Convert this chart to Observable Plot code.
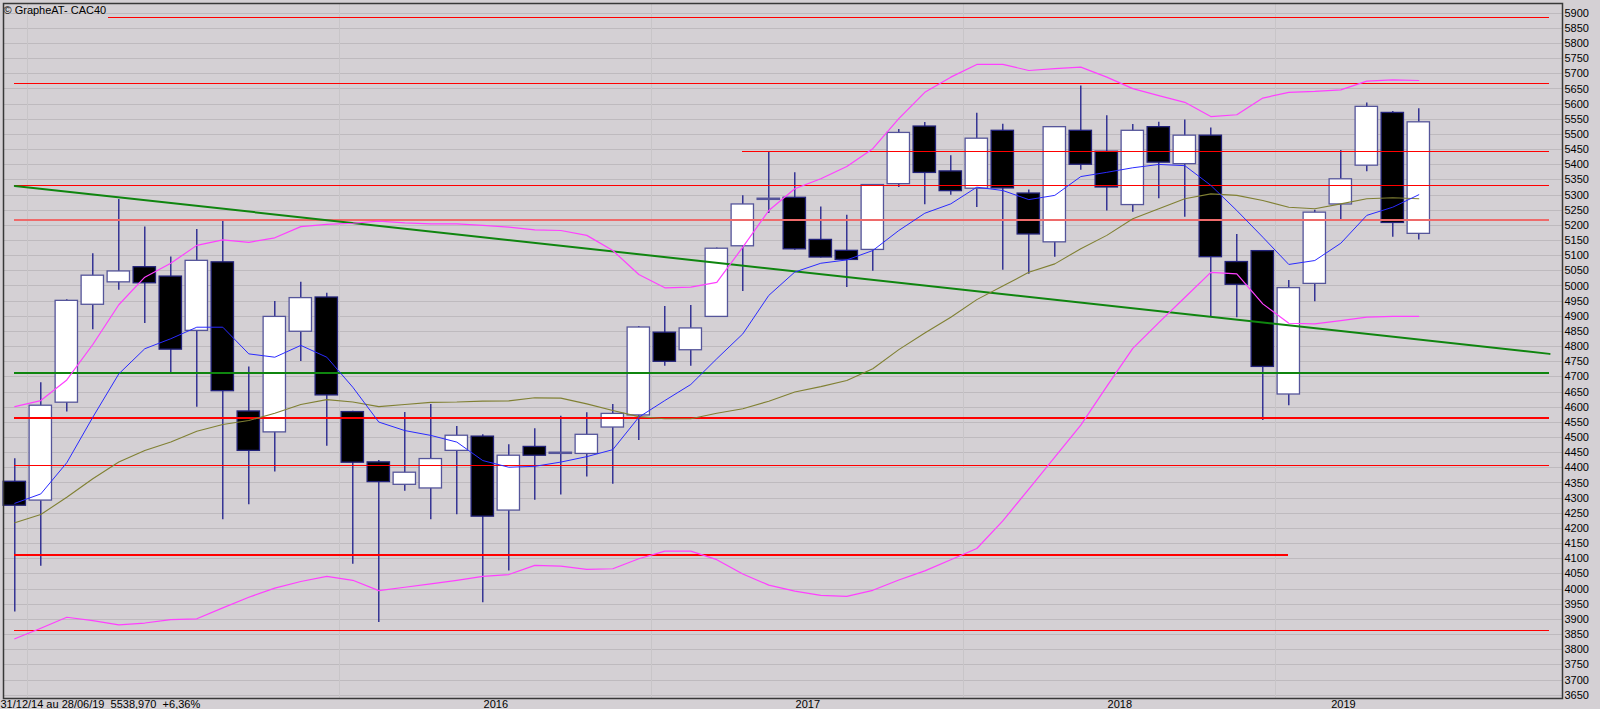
<!DOCTYPE html>
<html>
<head>
<meta charset="utf-8">
<script src="https://cdn.jsdelivr.net/npm/d3@7"></script>
<script src="https://cdn.jsdelivr.net/npm/@observablehq/plot@0.6"></script>
<style>
html, body { margin: 0; padding: 0; background: #d4d0d4; overflow: hidden; }
#chart svg { display: block; }
</style>
</head>
<body>
<div id="chart"></div>
<script>
// ---- Data (monthly CAC40 candles) ----
const months = ["2014-12","2015-01","2015-02","2015-03","2015-04","2015-05","2015-06","2015-07","2015-08","2015-09","2015-10","2015-11","2015-12",
"2016-01","2016-02","2016-03","2016-04","2016-05","2016-06","2016-07","2016-08","2016-09","2016-10","2016-11","2016-12",
"2017-01","2017-02","2017-03","2017-04","2017-05","2017-06","2017-07","2017-08","2017-09","2017-10","2017-11","2017-12",
"2018-01","2018-02","2018-03","2018-04","2018-05","2018-06","2018-07","2018-08","2018-09","2018-10","2018-11","2018-12",
"2019-01","2019-02","2019-03","2019-04","2019-05","2019-06"];

const open  = [4354,4292,4615,4938,5012,5062,5031,4852,5078,4586,4517,4849,4962,4584,4418,4344,4332,4456,4503,4259,4469,4446,4446,4533,4573,4846,4788,4898,5131,5284,5291,5152,5116,5119,5336,5526,5378,5321,5512,5305,5144,5512,5443,5267,5524,5402,5496,5079,5115,4642,5007,5269,5397,5571,5172];
const high  = [4430,4681,4955,5106,5285,5195,5096,5186,5219,4733,4949,5012,4976,4587,4424,4583,4609,4536,4509,4476,4529,4570,4582,4609,4866,4932,4936,5125,5298,5443,5374,5261,5233,5335,5516,5539,5430,5570,5534,5317,5526,5660,5562,5533,5540,5548,5521,5170,5117,5018,5250,5447,5604,5576,5585];
const low   = [3924,4075,4584,4856,4986,4876,4714,4600,4229,4278,4386,4751,4471,4082,3890,4323,4229,4245,3955,4060,4293,4310,4370,4346,4490,4735,4735,4896,4982,5239,5118,5092,4995,5049,5325,5268,5299,5259,5052,5039,5095,5382,5247,5243,5288,5227,4897,4895,4556,4605,4948,5213,5377,5161,5152];
const close = [4275,4605,4951,5034,5048,5009,4790,5083,4653,4456,4898,4960,4639,4417,4353,4384,4429,4506,4239,4440,4440,4450,4509,4578,4863,4750,4860,5123,5269,5288,5121,5094,5086,5333,5505,5373,5313,5486,5322,5170,5524,5400,5325,5512,5407,5496,5095,5004,4733,4993,5242,5352,5591,5208,5540];

// short moving average (blue)
const maShort = [4283,4314,4417,4567,4710,4793,4826,4864,4864,4776,4765,4804,4765,4666,4551,4523,4507,4485,4424,4402,4405,4419,4437,4460,4567,4622,4675,4760,4842,4969,5046,5075,5086,5117,5183,5240,5271,5326,5315,5285,5299,5361,5375,5390,5401,5397,5332,5249,5161,5071,5084,5141,5233,5260,5301];
// long moving average (olive)
const maLong = [4219,4246,4303,4364,4419,4457,4485,4521,4543,4556,4580,4609,4625,4617,4602,4609,4616,4617,4620,4621,4631,4630,4611,4589,4569,4562,4562,4580,4595,4620,4650,4668,4688,4727,4790,4845,4897,4955,5000,5045,5073,5123,5167,5222,5255,5288,5304,5299,5282,5260,5255,5271,5288,5291,5288];
// Bollinger bands (magenta)
const bandUpper = [4602,4622,4690,4807,4938,5029,5075,5134,5152,5144,5159,5196,5203,5207,5214,5208,5205,5205,5200,5194,5185,5183,5167,5117,5038,4994,4996,5012,5128,5249,5321,5354,5394,5453,5552,5639,5689,5731,5731,5711,5717,5722,5689,5651,5628,5606,5559,5565,5620,5639,5642,5647,5676,5680,5678];
const bandLower = [3836,3871,3907,3896,3882,3888,3899,3902,3938,3973,4003,4025,4042,4029,3995,4006,4017,4029,4042,4048,4078,4076,4065,4067,4100,4125,4125,4097,4050,4013,3993,3979,3976,3996,4030,4060,4097,4134,4225,4330,4435,4541,4669,4794,4879,4962,5045,5040,4941,4877,4875,4886,4897,4900,4900];

// horizontal support / resistance levels (value, first month index, last month index)
const levelValues = [5886, 5668, 5444, 5331, 5219, 4566, 4408, 4112, 3863];
const levelFrom   = [3.6, 0, 28, 0, 0, 0, 0, 0, 0];
const levelTo     = [59.03, 59.03, 59.03, 59.03, 59.03, 59.03, 59.03, 49, 59.03];

// green horizontal level and green trend line
const greenLevel = 4712;
const greenLevelFrom = 0, greenLevelTo = 59.03;
const trendIdx = [0, 59.03];
const trendVal = [5330, 4776];

// axis ticks
const yTicks = d3.range(3650, 5901, 50);
const yearLabels = ["2016", "2017", "2018", "2019"];
const yearLabelPos = [18.5, 30.5, 42.5, 51.1];
const yearBounds = [0.5, 12.5, 24.5, 36.5, 48.5];

const titleText = "© GrapheAT- CAC40";
const footerText = "31/12/14 au 28/06/19  5538,970  +6,36%";

// ---- Build tables ----
const candles = months.map((m, i) => ({
  i, m, o: open[i], h: high[i], l: low[i], c: close[i], up: close[i] >= open[i]
}));
const series = (arr) => arr.map((v, i) => ({i, v}));
const levels = levelValues.map((v, k) => ({v, from: levelFrom[k], to: levelTo[k]}));
const trend = trendIdx.map((x, k) => ({x, y: trendVal[k]}));

// style table for levels (by position in the level list)
const levelStroke = k => (k === 4 ? "#ee6a6a" : "#ff0000");
const levelWidth  = k => ([4].includes(k) ? 2 : [5, 7].includes(k) ? 2 : 1);

const halfW = 0.43;

const levelMarks = levels.map((d, k) =>
  Plot.ruleY([d], {y: "v", x1: "from", x2: "to", stroke: levelStroke(k), strokeWidth: levelWidth(k), shapeRendering: "crispEdges"})
);

const chart = Plot.plot({
  width: 1600,
  height: 709,
  marginTop: 3,
  marginBottom: 11,
  marginLeft: 3,
  marginRight: 38,
  style: {
    background: "#d4d0d4",
    fontFamily: "'Liberation Sans', Arial, sans-serif",
    fontSize: "11px",
    color: "#000",
    overflow: "hidden"
  },
  x: {domain: [-0.4346, 59.527], axis: null},
  y: {
    domain: [3639, 5932],
    axis: "right",
    ticks: yTicks,
    tickSize: 0,
    tickPadding: 2,
    tickFormat: d => String(d),
    label: null
  },
  marks: [
    // gridlines
    Plot.ruleY(yTicks, {stroke: "#bebabe", strokeWidth: 1, shapeRendering: "crispEdges"}),
    Plot.ruleX(yearBounds, {stroke: "#c8c5c8", strokeWidth: 1, shapeRendering: "crispEdges"}),
    // candles
    Plot.ruleX(candles, {x: "i", y1: "l", y2: "h", stroke: "#1c1c8a", strokeWidth: 1.3}),
    Plot.rect(candles.filter(d => d.up), {
      x1: d => d.i - halfW, x2: d => d.i + halfW, y1: "o", y2: "c",
      fill: "#ffffff", stroke: "#55559a", strokeWidth: 1.3
    }),
    Plot.rect(candles.filter(d => !d.up), {
      x1: d => d.i - halfW, x2: d => d.i + halfW, y1: "o", y2: "c",
      fill: "#000000", stroke: "#22227a", strokeWidth: 1.3
    }),
    // levels
    ...levelMarks,
    Plot.ruleY([greenLevel], {x1: greenLevelFrom, x2: greenLevelTo, stroke: "#0f850f", strokeWidth: 2, shapeRendering: "crispEdges"}),
    Plot.line(trend, {x: "x", y: "y", stroke: "#0f850f", strokeWidth: 2}),
    // indicators
    Plot.line(series(bandUpper), {x: "i", y: "v", stroke: "#ff40ff", strokeWidth: 1.2}),
    Plot.line(series(bandLower), {x: "i", y: "v", stroke: "#ff40ff", strokeWidth: 1.2}),
    Plot.line(series(maLong), {x: "i", y: "v", stroke: "#808033", strokeWidth: 1.1}),
    Plot.line(series(maShort), {x: "i", y: "v", stroke: "#2a2aff", strokeWidth: 1}),
    // texts
    Plot.text([titleText], {text: d => d, frameAnchor: "top-left", textAnchor: "start", lineAnchor: "top", dx: 0, dy: 2.5, fontSize: 11, fill: "#000"}),
    Plot.text([footerText], {text: d => d, frameAnchor: "bottom-left", textAnchor: "start", lineAnchor: "top", dx: -3, dy: 1.5, fontSize: 11, fill: "#000"}),
    Plot.text(yearLabels, {text: d => d, x: (d, k) => yearLabelPos[k], frameAnchor: "bottom", lineAnchor: "top", dy: 1.5, fontSize: 11, fill: "#000"}),
    Plot.frame({stroke: "#383838", strokeWidth: 1.5})
  ]
});

document.getElementById("chart").appendChild(chart);
</script>
</body>
</html>
